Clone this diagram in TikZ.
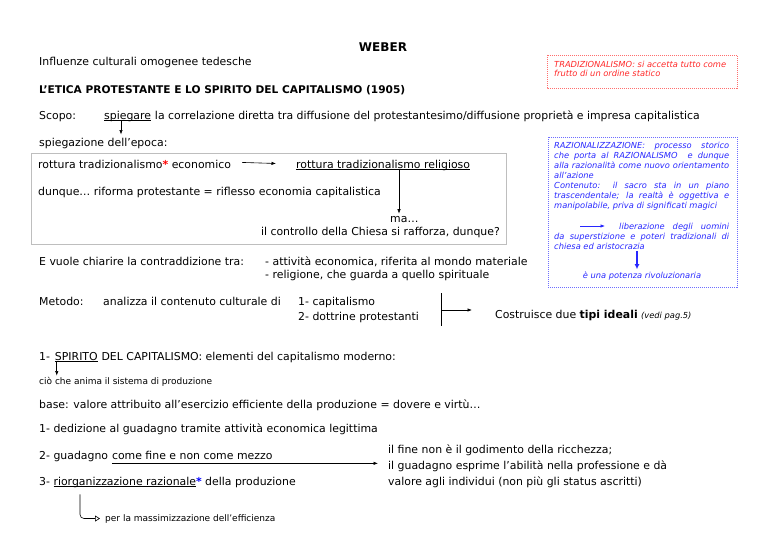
\documentclass[tikz,border=0pt]{standalone}
\usepackage{fontspec}
\setmainfont{DejaVu Sans}
\usetikzlibrary{arrows.meta,calc}
\definecolor{redtxt}{RGB}{255,40,40}
\definecolor{redbox}{RGB}{255,110,110}
\definecolor{bluetxt}{RGB}{40,40,255}
\definecolor{bluebox}{RGB}{110,110,255}
\definecolor{graybox}{RGB}{190,190,190}
\newcommand{\myul}[1]{\setbox0\hbox{#1}\rlap{\rule[-1.8pt]{\wd0}{0.5pt}}\box0}
\begin{document}
\begin{tikzpicture}[x=1pt,y=-1pt,
  txt/.style={inner sep=0pt, anchor=base west, font=\fontsize{10.9}{13}\selectfont},
  smallit/.style={inner sep=0pt, anchor=base west, font=\fontsize{8.3}{10}\selectfont\itshape},
  tiny/.style={inner sep=0pt, anchor=base west, font=\fontsize{9}{11}\selectfont},
  arr/.style={-{Latex[length=4.5pt,width=3.4pt]}, line width=0.6pt},
  dotbox/.style={line width=0.8pt, dash pattern=on 1pt off 1pt},
  ]
\useasboundingbox (0,0) rectangle (768,543);
\fill[white] (0,0) rectangle (768,543);

\node[txt, font=\fontsize{12}{14}\selectfont\bfseries, anchor=base] (weber) at (383,52) {WEBER};
\node[txt] (infl) at (39,66) {Influenze culturali omogenee tedesche};
\node[txt, font=\fontsize{10.6}{13}\selectfont\bfseries] (etica) at (39,93) {L’ETICA PROTESTANTE E LO SPIRITO DEL CAPITALISMO (1905)};

% red box
\draw[dotbox, redbox] (547,55) rectangle (737,88);
\node[smallit, text=redtxt] (r1) at (554,67) {TRADIZIONALISMO: si accetta tutto come};
\node[smallit, text=redtxt] (r2) at (554,77) {frutto di un ordine statico};

\node[txt] (scopo) at (39,119) {Scopo:};
\node[txt] (spieg) at (104,119) {\myul{spiegare}};
\node[txt] (correl) at ($(spieg.base east)+(3.5,0)$) {la correlazione diretta tra diffusione del protestantesimo/diffusione proprietà e impresa capitalistica};
\node[txt] (epoca) at (39,146) {spiegazione dell’epoca:};
\draw[arr] ([xshift=17pt]spieg.south west) -- ([xshift=17pt,yshift=3pt]spieg.south west |- epoca.north);

% gray frame
\draw[graybox, line width=0.9pt] (31,153) rectangle (506,244);
\node[txt] (rot1) at (38,168) {rottura tradizionalismo{\color{red}\bfseries*} economico};
\node[txt] (rot2) at (296,168) {\myul{rottura tradizionalismo religioso}};
\draw[arr] ([xshift=11pt,yshift=1.5pt]rot1.east) -- ([xshift=-20pt,yshift=1.5pt]rot2.west);
\node[txt] (dunque) at (38,195) {dunque… riforma protestante = riflesso economia capitalistica};
\node[txt] (ma) at (390,222) {ma…};
\node[txt, anchor=base east] (contr) at (500,235) {il controllo della Chiesa si rafforza, dunque?};
\draw[arr] ([xshift=103pt]rot2.south west) -- ([xshift=103pt,yshift=2pt]rot2.south west |- ma.north);

\node[txt] (evuole) at (39,265) {E vuole chiarire la contraddizione tra:};
\node[txt] (att) at (265,265) {- attività economica, riferita al mondo materiale};
\node[txt] (rel) at (265,278) {- religione, che guarda a quello spirituale};

% blue box
\draw[dotbox, bluebox] (548,137) rectangle (737,287);
\begin{scope}[every node/.append style={text=bluetxt}]
\node[smallit] (b1) at (554,148) {\makebox[175pt][s]{RAZIONALIZZAZIONE: processo storico}};
\node[smallit] (b2) at (554,158) {\makebox[175pt][s]{che porta al RAZIONALISMO\ \ e dunque}};
\node[smallit] (b3) at (554,168) {\makebox[175pt][s]{alla razionalità come nuovo orientamento}};
\node[smallit] (b4) at (554,178) {all’azione};
\node[smallit] (b5) at (554,188) {\makebox[175pt][s]{Contenuto: il sacro sta in un piano}};
\node[smallit] (b6) at (554,198) {\makebox[175pt][s]{trascendentale; la realtà è oggettiva e}};
\node[smallit] (b7) at (554,208) {manipolabile, priva di significati magici};
\node[smallit] (b8) at (619,229) {\makebox[110pt][s]{liberazione degli uomini}};
\node[smallit] (b9) at (554,239) {\makebox[175pt][s]{da superstizione e poteri tradizionali di}};
\node[smallit] (b10) at (554,249) {chiesa ed aristocrazia};
\node[smallit, anchor=base] (b11) at (642,278) {è una potenza rivoluzionaria};
\end{scope}
\coordinate (barr) at (580,226);
\draw[arr, bluetxt] (barr) -- ([xshift=-14pt]barr -| b8.west);
\coordinate (tk) at (637,251);
\draw[-{Latex[length=5pt,width=5pt]}, line width=1.8pt, bluetxt] (tk) -- ([yshift=2pt]tk |- b11.north);

\node[txt] (metodo) at (39,305) {Metodo:};
\node[txt] (anal) at (103,305) {analizza il contenuto culturale di};
\node[txt] (cap) at (298,305) {1- capitalismo};
\node[txt] (dott) at (298,320) {2- dottrine protestanti};
\coordinate (bartop) at (441,293);
\coordinate (barbot) at (441,326);
\coordinate (barmid) at (441,310);
\draw[line width=0.6pt] (bartop) -- (barbot);
\node[txt] (costr) at (495,318) {Costruisce due \textbf{tipi ideali} {\fontsize{8.3}{10}\selectfont\itshape (vedi pag.5)}};
\draw[arr] (barmid) -- ([xshift=-23pt]costr.west |- barmid);

\node[txt] (uno) at (39,360) {1-};
\node[txt] (spir) at ($(uno.base east)+(4.5,0)$) {\myul{SPIRITO}};
\node[txt] (spirrest) at ($(spir.base east)+(3.5,0)$) {DEL CAPITALISMO: elementi del capitalismo moderno:};
\node[tiny] (cio) at (39,384) {ciò che anima il sistema di produzione};
\draw[arr] ([xshift=2pt]spir.south west) -- ([xshift=2pt,yshift=1pt]spir.south west |- cio.north);

\node[txt] (base) at (39,408) {base: valore attribuito all’esercizio efficiente della produzione = dovere e virtù…};
\node[txt] (ded) at (39,432) {1- dedizione al guadagno tramite attività economica legittima};
\node[txt] (guad1) at (39,459) {2- guadagno};
\node[txt] (guad2) at ($(guad1.base east)+(3.5,0)$) {come fine e non come mezzo};
\node[txt] (riorg) at (39,485) {3- \myul{riorganizzazione razionale}{\color{blue}\bfseries*} della produzione};

\node[txt] (f1) at (388,453) {il fine non è il godimento della ricchezza;};
\node[txt] (f2) at (388,469) {il guadagno esprime l’abilità nella professione e dà};
\node[txt] (f3) at (388,485) {valore agli individui (non più gli status ascritti)};
\draw[arr] ([yshift=-4pt]guad2.south west) -- ([xshift=-10pt,yshift=-4pt]guad2.south west -| f2.west);

\node[tiny] (perla) at (105,521) {per la massimizzazione dell’efficienza};
\draw[line width=0.6pt, rounded corners=4pt, -{Triangle[open,length=5pt,width=6pt]}] ([xshift=41pt,yshift=-7pt]riorg.south west) |- ([xshift=-5pt]perla.west);
\end{tikzpicture}
\end{document}
